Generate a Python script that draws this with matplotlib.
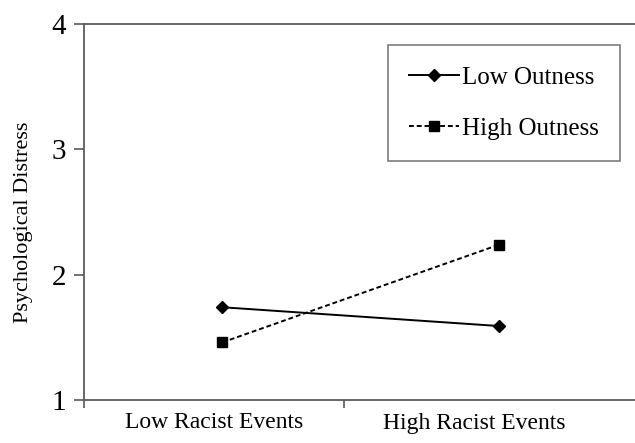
import matplotlib
matplotlib.use("Agg")
import matplotlib.pyplot as plt

# data
conditions = ["Low Racist Events", "High Racist Events"]
x_pos = [0, 1]
low_outness = [1.74, 1.59]
high_outness = [1.46, 2.24]
y_ticks = [1, 2, 3, 4]

plt.rcParams["font.family"] = ["Liberation Serif", "DejaVu Serif"]
spine_col = "#5a5a5a"

fig = plt.figure(figsize=(6.35, 4.43), dpi=100)
ax = fig.add_axes([84 / 635, 43 / 443, 551 / 635, 376 / 443])

ax.plot(x_pos, low_outness, color="black", lw=1.4, marker="D", markersize=6.5,
        label="Low Outness")
ax.plot(x_pos, high_outness, color="black", lw=1.4, ls=(0, (2.5, 1.5)), marker="s",
        markersize=7.5, label="High Outness")

ax.set_xlim(-0.5, 1.49)
ax.set_ylim(1, 4)
ax.set_yticks(y_ticks)
ax.tick_params(axis="y", labelsize=21, length=7, width=1.2, color=spine_col, pad=6)

# category labels centred in their bands, tick marks at band boundaries
ax.set_xticks([-0.5, 0.44])
ax.set_xticklabels(["", ""])
ax.set_xticks([-0.03, 0.91], minor=True)
ax.set_xticklabels(conditions, minor=True, fontsize=17)
ax.tick_params(axis="x", which="major", length=6, width=1.2, color=spine_col)
ax.tick_params(axis="x", which="minor", length=0, pad=9)

ax.set_ylabel("Psychological Distress", fontsize=16)
ax.yaxis.set_label_coords(-0.092, 0.473)

for s in ["left", "bottom", "top"]:
    ax.spines[s].set_color(spine_col)
    ax.spines[s].set_linewidth(1.3)
ax.spines["right"].set_visible(False)

leg = ax.legend(loc="upper right", bbox_to_anchor=(620 / 635, 1 - 45 / 443),
                bbox_transform=fig.transFigure, fontsize=18, frameon=True,
                fancybox=False, handlelength=2.0, handletextpad=0.1,
                labelspacing=1.15, borderpad=0.85, borderaxespad=0)
leg.get_frame().set_edgecolor(spine_col)
leg.get_frame().set_linewidth(1.2)

fig.savefig("out.png", dpi=100)
